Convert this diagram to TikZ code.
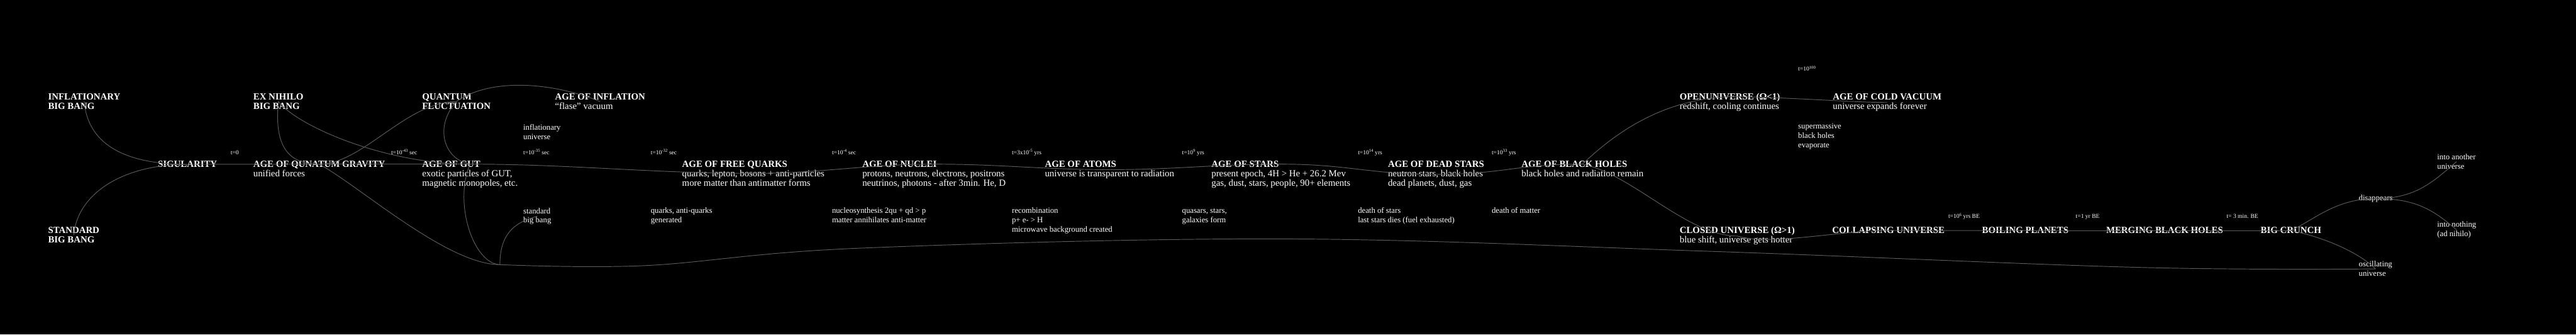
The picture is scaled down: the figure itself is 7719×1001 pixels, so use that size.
\documentclass[tikz,border=0pt]{standalone}
\usepackage{fontspec}
\setmainfont{Liberation Serif}
\definecolor{linkgray}{gray}{0.36}

\begin{document}
\begin{tikzpicture}[
    x=1pt, y=-1pt,
    ttl/.style={text=white, align=left, anchor=base west, inner sep=0pt, font=\fontsize{28}{28}\selectfont},
    note/.style={text=white, align=left, anchor=base west, inner sep=0pt, font=\fontsize{24}{28}\selectfont},
    tlabel/.style={text=white, anchor=base west, inner sep=0pt, font=\fontsize{18}{22}\selectfont},
    link/.style={draw=linkgray, line width=1.8pt}
  ]
  \fill[black] (0,0) rectangle (7719,1001);
  \useasboundingbox (0,0) rectangle (7719,1001);

  \node[ttl] (ibb) at (144,327) {\textbf{INFLATIONARY}\\\textbf{BIG BANG}};
  \node[ttl] (sbb) at (144,727) {\textbf{STANDARD}\\\textbf{BIG BANG}};
  \node[ttl] (sing) at (473,501) {\textbf{SIGULARITY}};
  \node[ttl] (exn) at (759,327) {\textbf{EX NIHILO}\\\textbf{BIG BANG}};
  \node[ttl] (qg) at (759,528) {\textbf{AGE OF QUNATUM GRAVITY}\\unified forces};
  \node[ttl] (qf) at (1265,327) {\textbf{QUANTUM}\\\textbf{FLUCTUATION}};
  \node[ttl] (gut) at (1265,556) {\textbf{AGE OF GUT}\\exotic particles of GUT,\\magnetic monopoles, etc.};
  \node[ttl] (infl) at (1663,327) {\textbf{AGE OF INFLATION}\\“flase” vacuum};
  \node[ttl] (fq) at (2044,556) {\textbf{AGE OF FREE QUARKS}\\quarks, lepton, bosons + anti-particles\\more matter than antimatter forms};
  \node[ttl] (nuclei) at (2584,556) {\textbf{AGE OF NUCLEI}\\protons, neutrons, electrons, positrons\\neutrinos, photons - after 3min. He, D};
  \node[ttl] (atoms) at (3131,528) {\textbf{AGE OF ATOMS}\\universe is transparent to radiation};
  \node[ttl] (stars) at (3630,556) {\textbf{AGE OF STARS}\\present epoch, 4H > He + 26.2 Mev\\gas, dust, stars, people, 90+ elements};
  \node[ttl] (dead) at (4159,556) {\textbf{AGE OF DEAD STARS}\\neutron stars, black holes\\dead planets, dust, gas};
  \node[ttl] (bh) at (4559,528) {\textbf{AGE OF BLACK HOLES}\\black holes and radiation remain};
  \node[ttl] (open) at (5033,327) {\textbf{OPENUNIVERSE (Ω<1)}\\redshift, cooling continues};
  \node[ttl] (closed) at (5033,727) {\textbf{CLOSED UNIVERSE (Ω>1)}\\blue shift, universe gets hotter};
  \node[ttl] (cold) at (5492,327) {\textbf{AGE OF COLD VACUUM}\\universe expands forever};
  \node[ttl] (collapse) at (5490,699) {\textbf{COLLAPSING UNIVERSE}};
  \node[ttl] (boil) at (5939,699) {\textbf{BOILING PLANETS}};
  \node[ttl] (merge) at (6311,699) {\textbf{MERGING BLACK HOLES}};
  \node[ttl] (crunch) at (6774,699) {\textbf{BIG CRUNCH}};

  \node[note] (infu) at (1568,418) {inflationary\\universe};
  \node[note] (stdbb) at (1568,667) {standard\\big bang};
  \node[note] (qaq) at (1950,666) {quarks, anti-quarks\\generated};
  \node[note] (nucsyn) at (2493,666) {nucleosynthesis 2qu + qd > p\\matter annihilates anti-matter};
  \node[note] (recomb) at (3032,694) {recombination\\p+ e- > H\\microwave background created};
  \node[note] (quasars) at (3542,666) {quasars, stars,\\galaxies form};
  \node[note] (deathst) at (4069,666) {death of stars\\last stars dies (fuel exhausted)};
  \node[note] (deathm) at (4470,638) {death of matter};
  \node[note] (smbh) at (5388,441) {supermassive\\black holes\\evaporate};
  \node[note] (disap) at (7068,600) {disappears};
  \node[note] (another) at (7303,506) {into another\\universe};
  \node[note] (nothing) at (7303,708) {into nothing\\(ad nihilo)};
  \node[note] (osc) at (7068,827) {oscillating\\universe};

  \node[tlabel] (t0) at (691,462) {t=0};
  \node[tlabel] (t43) at (1172,462) {t=10\textsuperscript{-43} sec};
  \node[tlabel] (t35) at (1568,462) {t=10\textsuperscript{-35} sec};
  \node[tlabel] (t32) at (1950,462) {t=10\textsuperscript{-32} sec};
  \node[tlabel] (t4) at (2493,462) {t=10\textsuperscript{-4} sec};
  \node[tlabel] (t3x) at (3032,462) {t=3x10\textsuperscript{-5} yrs};
  \node[tlabel] (t9) at (3542,462) {t=10\textsuperscript{9} yrs};
  \node[tlabel] (t14) at (4069,462) {t=10\textsuperscript{14} yrs};
  \node[tlabel] (t33) at (4470,462) {t=10\textsuperscript{33} yrs};
  \node[tlabel] (t100) at (5388,212) {t=10\textsuperscript{100}};
  \node[tlabel] (t6be) at (5838,653) {t=10\textsuperscript{6} yrs BE};
  \node[tlabel] (t1be) at (6220,653) {t=1 yr BE};
  \node[tlabel] (t3be) at (6672,653) {t= 3 min. BE};

  \coordinate (loopback) at (1498,792);

  \draw[link] (ibb.center) .. controls +(10,120) and +(-200,0) .. (sing.center);
  \draw[link] (sbb.center) .. controls +(10,-120) and +(-200,0) .. (sing.center);
  \draw[link] (sing.center) .. controls +(100,0) and +(-100,0) .. ([yshift=-10pt]qg.north);
  \draw[link] (exn.center) .. controls +(-15,150) and +(-80,0) .. ([yshift=-10pt]qg.north);
  \draw[link] (exn.center) .. controls +(60,76) and +(-250,0) .. ([yshift=-10pt]gut.north);
  \draw[link] ([yshift=-10pt]qg.north) .. controls +(130,0) and +(-150,0) .. (qf.center);
  \draw[link] (qf.center) .. controls +(100,-70) and +(-150,-60) .. (infl.center);
  \draw[link] (qf.center) .. controls +(-68,76) and +(-78,-14) .. ([yshift=-10pt]gut.north);
  \draw[link] ([yshift=-10pt]qg.north) .. controls +(150,0) and +(-150,0) .. ([yshift=-10pt]gut.north);
  \draw[link] ([yshift=-10pt]gut.north) .. controls +(300,0) and +(-300,0) .. (fq.center);
  \draw[link] (fq.center) .. controls +(200,0) and +(-200,0) .. ([yshift=-10pt]nuclei.north);
  \draw[link] ([yshift=-10pt]nuclei.north) .. controls +(200,0) and +(-200,0) .. (atoms.center);
  \draw[link] (atoms.center) .. controls +(200,0) and +(-200,0) .. ([yshift=-10pt]stars.north);
  \draw[link] ([yshift=-10pt]stars.north) .. controls +(200,0) and +(-200,0) .. (dead.center);
  \draw[link] (dead.center) .. controls +(200,0) and +(-200,0) .. ([yshift=-10pt]bh.north);
  \draw[link] ([yshift=-10pt]bh.north) .. controls +(119,-114) and +(-182,7) .. ([yshift=-10pt]open.north);
  \draw[link] ([yshift=-10pt]open.north) .. controls +(150,0) and +(-100,0) .. (cold.center);
  \draw[link] ([yshift=-10pt]bh.north) .. controls +(150,30) and +(-150,0) .. (closed.center);
  \draw[link] (closed.center) .. controls +(100,30) and +(-150,0) .. (collapse.center);
  \draw[link] (collapse.center) -- (boil.center);
  \draw[link] (boil.center) -- (merge.center);
  \draw[link] (merge.center) -- (crunch.center);
  \draw[link] (crunch.center) .. controls +(66,-30) and +(-120,0) .. (disap.center);
  \draw[link] (crunch.center) .. controls +(120,25) and +(-40,-40) .. (osc.center);
  \draw[link] (disap.center) .. controls +(120,0) and +(-70,60) .. (another.center);
  \draw[link] (disap.center) .. controls +(120,0) and +(-70,-60) .. (nothing.center);
  \draw[link] plot[smooth, tension=0.6] coordinates {(osc.center) (6400,800) (5120,752) (3850,715) (2570,743) (1930,795) (loopback)};
  \draw[link] (loopback) .. controls +(-158,0) and +(121,66) .. ([yshift=-10pt]qg.north);
  \draw[link] (loopback) .. controls +(-78,-2) and +(-50,120) .. ([yshift=-10pt]gut.north);
  \draw[link] (loopback) .. controls +(0,-80) and +(-80,20) .. (stdbb.center);
\end{tikzpicture}
\end{document}
